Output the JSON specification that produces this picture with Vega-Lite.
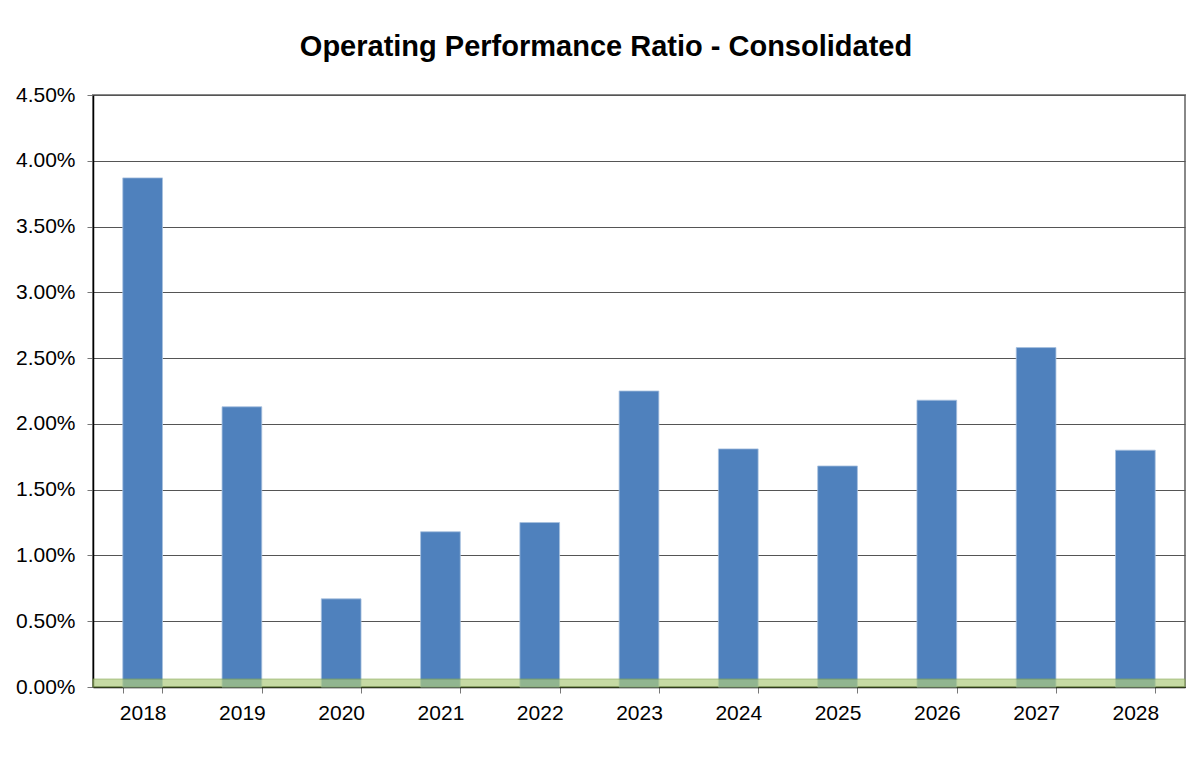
{
  "$schema": "https://vega.github.io/schema/vega-lite/v6.json",
  "width": 1092,
  "height": 592,
  "autosize": "none",
  "padding": {"left": 93, "top": 95, "right": 16, "bottom": 82},
  "background": "white",
  "title": {
    "text": "Operating Performance Ratio - Consolidated",
    "font": "Liberation Sans",
    "fontSize": 29,
    "fontWeight": "bold",
    "color": "black",
    "anchor": "middle",
    "dx": -33,
    "dy": 39,
    "baseline": "alphabetic",
    "offset": 38
  },
  "config": {
    "view": {"stroke": "#888888", "strokeWidth": 2},
    "axis": {
      "labelFont": "Liberation Sans",
      "labelFontSize": 21,
      "labelColor": "black",
      "domainColor": "black",
      "domainWidth": 1.5,
      "tickColor": "#777777",
      "tickSize": 6,
      "titleFontSize": 0
    }
  },
  "data": {
    "values": [
      {"year": "2018", "ratio": 0.0387},
      {"year": "2019", "ratio": 0.0213},
      {"year": "2020", "ratio": 0.0067},
      {"year": "2021", "ratio": 0.0118},
      {"year": "2022", "ratio": 0.0125},
      {"year": "2023", "ratio": 0.0225},
      {"year": "2024", "ratio": 0.0181},
      {"year": "2025", "ratio": 0.0168},
      {"year": "2026", "ratio": 0.0218},
      {"year": "2027", "ratio": 0.0258},
      {"year": "2028", "ratio": 0.0180}
    ]
  },
  "layer": [
    {
      "mark": {"type": "bar", "color": "#4f81bd", "stroke": "#a7c0de", "strokeWidth": 0.8},
      "encoding": {
        "x": {
          "field": "year",
          "type": "ordinal",
          "title": null,
          "scale": {"paddingInner": 0.6, "paddingOuter": 0.3},
          "axis": {"labelAngle": 0, "tickBand": "extent", "labelPadding": 9, "grid": false}
        },
        "y": {
          "field": "ratio",
          "type": "quantitative",
          "title": null,
          "scale": {"domain": [0, 0.045], "nice": false},
          "axis": {
            "format": ".2%",
            "values": [0, 0.005, 0.01, 0.015, 0.02, 0.025, 0.03, 0.035, 0.04, 0.045],
            "grid": true,
            "gridColor": "#555555",
            "gridWidth": 1,
            "labelPadding": 12
          }
        }
      }
    },
    {
      "data": {"values": [{"lo": 0, "hi": 0.0006}]},
      "mark": {"type": "rect", "color": "#aecb7e", "opacity": 0.7, "stroke": "#86a84f", "strokeWidth": 1},
      "encoding": {
        "y": {"field": "lo", "type": "quantitative"},
        "y2": {"field": "hi"}
      }
    }
  ]
}
